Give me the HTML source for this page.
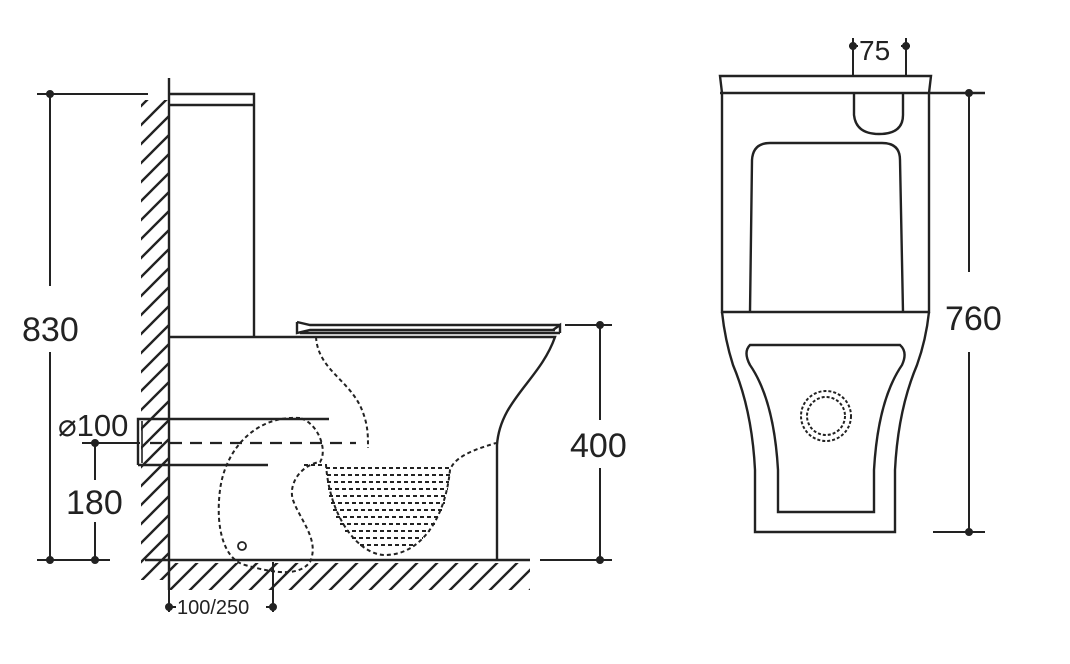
<!DOCTYPE html>
<html><head><meta charset="utf-8"><style>
html,body{margin:0;padding:0;background:#fff;width:1070px;height:664px;overflow:hidden}
text{font-family:"Liberation Sans",sans-serif;fill:#222}
</style></head><body>
<svg width="1070" height="664" viewBox="0 0 1070 664" xmlns="http://www.w3.org/2000/svg">
<defs>
<pattern id="h" width="19" height="19" patternUnits="userSpaceOnUse">
<path d="M-4,23 L23,-4 M-4,4 L4,-4 M15,23 L23,15" stroke="#222" stroke-width="2.4"/>
</pattern>
<pattern id="h2" width="20" height="20" patternUnits="userSpaceOnUse">
<path d="M-4,24 L24,-4 M-4,4 L4,-4 M16,24 L24,16" stroke="#222" stroke-width="2.4"/>
</pattern>
</defs>
<g stroke="#222" stroke-width="2.4" fill="none">
<rect x="141" y="100" width="27" height="480" fill="url(#h)" stroke="none"/>
<rect x="170" y="563" width="360" height="27" fill="url(#h2)" stroke="none"/>
<line x1="169" y1="78" x2="169" y2="590"/>
<line x1="145" y1="560" x2="169" y2="560"/>
<line x1="169" y1="560" x2="530" y2="560"/>
<path d="M169,94 H254 V337"/>
<line x1="169" y1="105" x2="254" y2="105"/>
<line x1="169" y1="337" x2="300" y2="337"/>
<path d="M297,322 L310,325 H560 M297,322 V333 L310,330 H555 M300,333 H560"/>
<path d="M553,330 L560,325 V333"/>
<path d="M300,337 H555 C540,380 500,400 497,445 V560"/>
<path d="M145,419 H329 M138,465 H268"/>
<path d="M145,419 H138 V465"/>
<path d="M142,421 V463" stroke-width="1.6"/>
</g>
<g stroke="#222" stroke-width="2.2" fill="none" stroke-dasharray="12,8">
<line x1="150" y1="443" x2="356" y2="443"/>
</g>
<g stroke="#222" stroke-width="2" fill="none" stroke-dasharray="4,3">
<path d="M316,337 C318,370 350,380 362,410 C368,425 368,435 368,448"/>
<path d="M300,418 C255,415 225,450 220,490 C215,530 225,560 245,565 C280,575 300,575 310,562 C320,540 300,520 293,500 C288,485 300,465 320,462 C328,450 318,423 300,418 Z"/>
<path d="M304,465 H326 C330,520 360,555 385,555 C420,555 445,520 450,470 C455,455 480,448 496,443"/>
<path d="M326,468 H450 M327,475 H450 M327,482 H449 M328,489 H448 M329,496 H447 M331,503 H445 M333,510 H443 M336,517 H440 M340,524 H436 M345,531 H430 M352,538 H423 M360,545 H413"/>
</g>
<circle cx="242" cy="546" r="4" stroke="#222" stroke-width="1.8" fill="none"/>
<g stroke="#222" stroke-width="2" fill="#222">
<line x1="37" y1="94" x2="148" y2="94"/>
<line x1="50" y1="94" x2="50" y2="286"/>
<line x1="50" y1="352" x2="50" y2="560"/>
<line x1="37" y1="560" x2="110" y2="560"/>
<circle cx="50" cy="94" r="3"/><circle cx="50" cy="560" r="3"/>
<line x1="82" y1="443" x2="140" y2="443"/>
<line x1="95" y1="443" x2="95" y2="480"/>
<line x1="95" y1="522" x2="95" y2="560"/>
<circle cx="95" cy="443" r="3"/><circle cx="95" cy="560" r="3"/>
<line x1="169" y1="590" x2="169" y2="612"/>
<line x1="273" y1="562" x2="273" y2="612"/>
<line x1="169" y1="607" x2="176" y2="607"/><line x1="266" y1="607" x2="273" y2="607"/>
<circle cx="169" cy="607" r="3"/><circle cx="273" cy="607" r="3"/>
<line x1="565" y1="325" x2="612" y2="325"/>
<line x1="600" y1="325" x2="600" y2="420"/>
<line x1="600" y1="468" x2="600" y2="560"/>
<line x1="540" y1="560" x2="612" y2="560"/>
<circle cx="600" cy="325" r="3"/><circle cx="600" cy="560" r="3"/>
</g>
<text x="22" y="341" font-size="34">830</text>
<text x="66" y="514" font-size="34">180</text>
<text x="58" y="436" font-size="31">⌀100</text>
<text x="570" y="457" font-size="34">400</text>
<text x="177" y="614" font-size="20">100/250</text>
<g stroke="#222" stroke-width="2.4" fill="none">
<path d="M720,76 H931 L929,93 V312 H722 V93 Z"/>
<line x1="720" y1="93" x2="985" y2="93"/>
<path d="M750,312 L752,160 Q753,143 770,143 H882 Q900,143 900,160 L903,312"/>
<path d="M854,93 V115 Q856,134 879,134 Q903,134 903,115 V93"/>
<path d="M722,312 Q725,340 733,365 Q752,410 755,470 V532 H895 V470 Q898,410 917,365 Q926,340 929,312"/>
<path d="M750,345 H900 Q908,352 902,365 Q878,400 874,470 V512 H778 V470 Q774,400 750,365 Q743,352 750,345 Z"/>
</g>
<g stroke="#222" stroke-width="2" fill="none" stroke-dasharray="3,2">
<circle cx="826" cy="416" r="25"/><circle cx="826" cy="416" r="19"/>
</g>
<g stroke="#222" stroke-width="2" fill="#222">
<line x1="853" y1="38" x2="853" y2="76"/>
<line x1="906" y1="38" x2="906" y2="76"/>
<line x1="849" y1="46" x2="858" y2="46"/><line x1="901" y1="46" x2="910" y2="46"/>
<circle cx="853" cy="46" r="3"/><circle cx="906" cy="46" r="3"/>
<line x1="969" y1="93" x2="969" y2="272"/>
<line x1="969" y1="352" x2="969" y2="532"/>
<line x1="933" y1="532" x2="985" y2="532"/>
<circle cx="969" cy="93" r="3"/><circle cx="969" cy="532" r="3"/>
</g>
<text x="859" y="60" font-size="28">75</text>
<text x="945" y="330" font-size="34">760</text>
</svg>
</body></html>
